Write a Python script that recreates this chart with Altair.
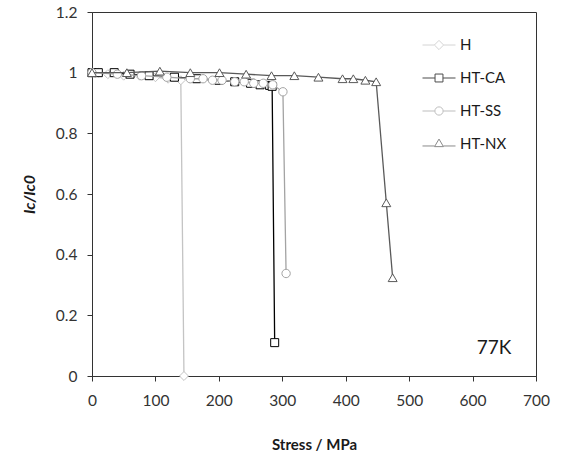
import altair as alt
import pandas as pd

# ---- data ----
h_stress = [0, 10, 25, 50, 75, 100, 120, 140, 145]
h_ratio = [1.0, 1.0, 0.995, 0.99, 0.99, 0.985, 0.98, 0.975, 0.0]

ca_stress = [0, 10, 35, 60, 90, 130, 165, 200, 225, 250, 265, 280, 284, 288]
ca_ratio = [1.0, 1.0, 1.0, 0.995, 0.99, 0.985, 0.98, 0.975, 0.97, 0.965, 0.96, 0.958, 0.955, 0.11]

ss_stress = [0, 40, 78, 118, 155, 175, 190, 205, 225, 240, 255, 270, 285, 301, 306]
ss_ratio = [1.0, 0.995, 0.99, 0.985, 0.98, 0.98, 0.975, 0.975, 0.97, 0.97, 0.965, 0.965, 0.96, 0.937, 0.338]

nx_stress = [0, 55, 107, 155, 201, 243, 283, 319, 357, 395, 412, 431, 448, 464, 474]
nx_ratio = [1.0, 1.0, 1.005, 1.0, 1.0, 0.995, 0.99, 0.99, 0.985, 0.98, 0.98, 0.975, 0.97, 0.571, 0.324]

series_names = ["H", "HT-CA", "HT-SS", "HT-NX"]
series_colors = ["#c4c4c4", "#000000", "#a3a3a3", "#595959"]
series_shapes = ["diamond", "square", "circle", "triangle-up"]
series_sizes = [80, 64, 70, 80]

# legend symbols: line segment through the marker (custom paths in [-1,1] box)
legend_paths = [
    "M-1,0L-0.28,0M0.28,0L1,0M0,-0.28L0.28,0L0,0.28L-0.28,0Z",
    "M-1,0L-0.24,0M0.24,0L1,0M-0.24,-0.24L0.24,-0.24L0.24,0.24L-0.24,0.24Z",
    "M-1,0L-0.25,0M0.25,0L1,0M0.25,0A0.25,0.25 0 1,1 -0.25,0A0.25,0.25 0 1,1 0.25,0Z",
    "M-1,0.12L-0.27,0.12M0.27,0.12L1,0.12M0,-0.3L0.27,0.16L-0.27,0.16Z",
]

frames = []
for name, s, r in [("H", h_stress, h_ratio), ("HT-CA", ca_stress, ca_ratio),
                   ("HT-SS", ss_stress, ss_ratio), ("HT-NX", nx_stress, nx_ratio)]:
    frames.append(pd.DataFrame({"stress": s, "ratio": r, "series": name,
                                "order": range(len(s))}))
df = pd.concat(frames, ignore_index=True)

FONT = "Lato"

x_enc = alt.X("stress:Q", scale=alt.Scale(domain=[0, 700], nice=False),
              axis=alt.Axis(values=list(range(0, 701, 100)), title="Stress / MPa",
                            titleFontWeight="bold", titleFontSize=15, titlePadding=29,
                            labelPadding=12))
y_enc = alt.Y("ratio:Q", scale=alt.Scale(domain=[0, 1.2], nice=False),
              axis=alt.Axis(values=[0, 0.2, 0.4, 0.6, 0.8, 1.0, 1.2], format=".1~f",
                            title="Ic/Ic0", titleFontStyle="italic", titleFontWeight="bold",
                            titleFontSize=16, titlePadding=18, labelPadding=10))

base = alt.Chart(df)
layers = []
for name, col, shp, sz in zip(series_names, series_colors, series_shapes, series_sizes):
    sub = base.transform_filter(alt.datum.series == name)
    layers.append(sub.mark_line(color=col, strokeWidth=1.3).encode(
        x=x_enc, y=y_enc, order="order:Q"))
    layers.append(sub.mark_point(shape=shp, size=sz, filled=False, fill="white",
                                 fillOpacity=1, opacity=1, stroke=col, strokeWidth=1).encode(
        x=x_enc, y=y_enc))

leg = dict(title=None, orient="none", legendX=330, legendY=16,
           symbolSize=1089, rowPadding=8, labelOffset=4,
           labelFontSize=15, labelFont=FONT, labelColor="#1a1a1a",
           symbolStrokeWidth=1, symbolFillColor="white", padding=0)

legend_layer = base.transform_filter("datum.ratio > 5").mark_point(
    filled=False, fill="white", strokeWidth=1).encode(
    x=x_enc, y=y_enc,
    shape=alt.Shape("series:N", scale=alt.Scale(domain=series_names, range=legend_paths),
                    legend=alt.Legend(**leg)),
    stroke=alt.Stroke("series:N", scale=alt.Scale(domain=series_names, range=series_colors),
                      legend=alt.Legend(**leg)),
)

label = alt.Chart(pd.DataFrame({"t": ["77K"]})).mark_text(
    font=FONT, fontSize=19, color="#1a1a1a", align="center", baseline="middle").encode(
    text="t:N", x=alt.value(402), y=alt.value(336))

chart = alt.layer(*layers, legend_layer, label).properties(
    width=444, height=364,
    autosize=alt.AutoSizeParams(type="none"),
    padding={"left": 92, "top": 12, "right": 27, "bottom": 80},
).configure_view(stroke="#333333", strokeWidth=1).configure_axis(
    grid=False, domainColor="#333333", tickColor="#333333", tickSize=5,
    labelColor="#333333", labelFont=FONT, labelFontSize=15.5,
    titleFont=FONT, titleColor="#1a1a1a",
).configure_axisX(labelFlush=False)

chart.save("out.html", embed_options={"renderer": "svg", "actions": False})
